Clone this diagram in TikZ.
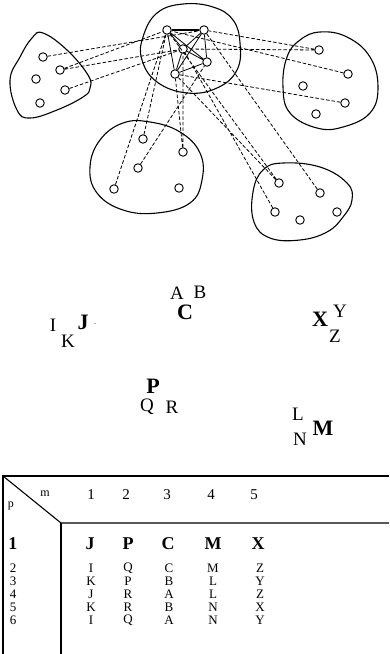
\documentclass[tikz,border=0pt]{standalone}
\usepackage{fontspec}
\setmainfont{Liberation Serif}
\begin{document}
\begin{tikzpicture}[x=1pt,y=-1pt,
  vtx/.style={circle,draw,fill=white,inner sep=0pt,minimum size=8.5pt,line width=0.9pt},
  blob/.style={line width=1.1pt},
  dsh/.style={dashed,dash pattern=on 3.5pt off 2pt,line width=0.8pt},
  sol/.style={line width=0.8pt},
  nl/.style={inner sep=0pt,font=\fontsize{19}{19}\selectfont},
  bl/.style={inner sep=0pt,font=\fontsize{22}{22}\selectfont\bfseries},
  tn/.style={inner sep=0pt,font=\fontsize{13}{13}\selectfont},
  tb/.style={inner sep=0pt,font=\fontsize{18}{18}\selectfont\bfseries},
  th/.style={inner sep=0pt,font=\fontsize{15}{15}\selectfont},
  tl/.style={line width=1.1pt}]
\useasboundingbox (0,0) rectangle (389,654);
% blobs
\draw[blob] plot[smooth cycle,tension=0.7] coordinates {(143,37) (142,60) (157,82) (187,93) (217,88) (237,70) (240,43) (233,20) (213,7) (183,4) (157,13)};
\draw[blob] plot[smooth cycle,tension=0.7] coordinates {(43,33) (67,50) (88,75) (90,88) (83,97) (57,110) (30,118) (17,110) (10,80) (20,57) (32,38)};
\draw[blob] plot[smooth cycle,tension=0.7] coordinates {(300,40) (320,32) (347,37) (370,57) (378,87) (370,113) (343,127) (317,128) (290,113) (283,87) (287,57)};
\draw[blob] plot[smooth cycle,tension=0.7] coordinates {(90,167) (100,140) (123,123) (150,122) (180,132) (200,153) (202,180) (190,203) (157,213) (123,210) (97,193)};
\draw[blob] plot[smooth cycle,tension=0.7] coordinates {(253,192) (263,170) (283,163) (320,167) (347,183) (352,200) (343,217) (327,232) (300,240) (270,238) (254,222)};
% central nodes
\node[vtx] (c1) at (167,30) {};
\node[vtx] (c2) at (204,30) {};
\node[vtx] (c3) at (183,49) {};
\node[vtx] (c4) at (207,62) {};
\node[vtx] (c5) at (175,74) {};
% left
\node[vtx] (L1) at (43,57) {};
\node[vtx] (L2) at (60,70) {};
\node[vtx] (L3) at (36,79) {};
\node[vtx] (L4) at (65,90) {};
\node[vtx] (L5) at (40,103) {};
% right
\node[vtx] (R1) at (319,50) {};
\node[vtx] (R2) at (348,74) {};
\node[vtx] (R3) at (303,86) {};
\node[vtx] (R4) at (345,103) {};
\node[vtx] (R5) at (316,114) {};
% bottom left
\node[vtx] (B1) at (143,139) {};
\node[vtx] (B2) at (183,152) {};
\node[vtx] (B3) at (138,168) {};
\node[vtx] (B4) at (114,189) {};
\node[vtx] (B5) at (179,188) {};
% bottom right
\node[vtx] (D1) at (279,183) {};
\node[vtx] (D2) at (320,193) {};
\node[vtx] (D3) at (275,212) {};
\node[vtx] (D4) at (337,212) {};
\node[vtx] (D5) at (300,220) {};
% solid clique
\draw[line width=1.8pt] (c1) -- (c2);
\draw[sol] (c1) -- (c3) (c1) -- (c4) (c1) -- (c5) (c2) -- (c3) (c2) -- (c4) (c2) -- (c5) (c3) -- (c4) (c3) -- (c5) (c4) -- (c5);
% dashed links
\draw[dsh] (L1) -- (c2) (L2) -- (c1) (L2) -- (c3) (L4) -- (c3);
\draw[dsh] (R1) -- (c2) (R1) -- (c3) (R2) -- (c1) (R4) -- (c5);
\draw[dsh] (B1) -- (c1) (B4) -- (c1) (B2) -- (c3) (B2) -- (c5) (B3) -- (c4);
\draw[dsh] (D1) -- (c1) (D1) -- (c5) (D2) -- (c2) (D3) -- (c3);
% letters
\node[nl] (tA) at (177,293) {A};
\node[nl] (tB) at (200,292) {B};
\node[bl] (tC) at (185,312) {C};
\node[nl] (tI) at (53,325) {I};
\node[bl] (tJ) at (83,322) {J};
\node[inner sep=0pt,font=\fontsize{8}{8}\selectfont] (tdot) at (95,324) {.};
\node[nl] (tK) at (68,341) {K};
\node[bl] (tX) at (320,319) {X};
\node[nl] (tY) at (340,311) {Y};
\node[nl] (tZ) at (335,336) {Z};
\node[bl] (tP) at (153,386) {P};
\node[nl] (tQ) at (147,407) {Q};
\node[nl] (tR) at (172,407) {R};
\node[nl] (tL) at (298,414) {L};
\node[bl] (tM) at (323,428) {M};
\node[nl] (tN) at (300,439) {N};
% table
\coordinate (tl0) at (3,476);
\coordinate (tr0) at (389,476);
\coordinate (bl0) at (3,654);
\coordinate (dg) at (61,523);
\coordinate (hr) at (389,523);
\coordinate (vb) at (61,654);
\draw[tl] (bl0) -- (tl0) -- (tr0);
\draw[tl] (tl0) -- (dg) -- (hr);
\draw[tl] (dg) -- (vb);
\node[inner sep=0pt,font=\fontsize{12}{12}\selectfont] (hm) at (45,494) {m};
\node[inner sep=0pt,font=\fontsize{12}{12}\selectfont] (hp) at (11,506) {p};
\node[th] (h1) at (91,495) {1};
\node[th] (h2) at (126,495) {2};
\node[th] (h3) at (167,495) {3};
\node[th] (h4) at (211,495) {4};
\node[th] (h5) at (254,495) {5};
\node[tb] (r1) at (13,544) {1};
\node[tb] (r1a) at (90,544) {J};
\node[tb] (r1b) at (128,544) {P};
\node[tb] (r1c) at (168,544) {C};
\node[tb] (r1d) at (213,544) {M};
\node[tb] (r1e) at (258,544) {X};
\foreach \r/\y/\a/\b/\c/\d/\e in {2/568/I/Q/C/M/Z,3/581/K/P/B/L/Y,4/594/J/R/A/L/Z,5/607/K/R/B/N/X,6/620/I/Q/A/N/Y}{
  \node[tn] (rl\r) at (13,\y) {\r};
  \node[tn] (ra\r) at (91,\y) {\a};
  \node[tn] (rb\r) at (128,\y) {\b};
  \node[tn] (rc\r) at (169,\y) {\c};
  \node[tn] (rd\r) at (213,\y) {\d};
  \node[tn] (re\r) at (260,\y) {\e};
}
\end{tikzpicture}
\end{document}
